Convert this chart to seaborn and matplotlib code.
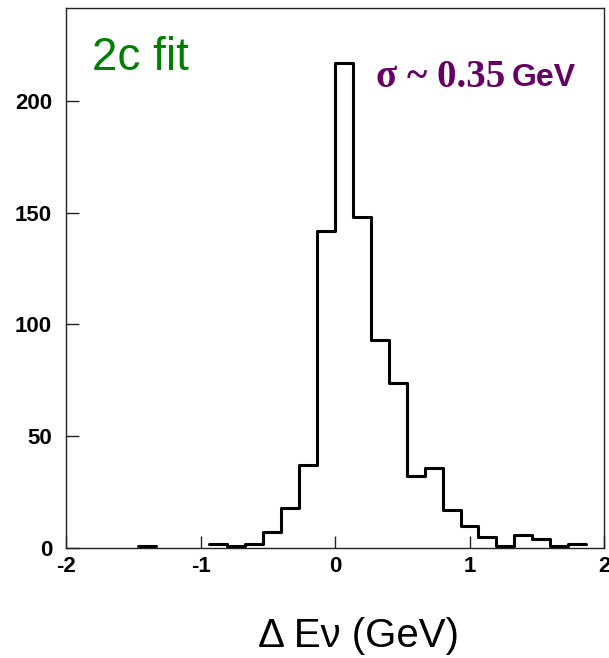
import numpy as np
import pandas as pd
import seaborn as sns
import matplotlib.pyplot as plt

# 30 bins between -2 and 2 GeV
bin_lo, bin_hi, n_bins = -2.0, 2.0, 30
counts = [0, 0, 0, 0, 1, 0, 0, 0, 2, 1,
          2, 7, 18, 37, 142, 217, 148, 93, 74, 32,
          36, 17, 10, 5, 1, 6, 4, 1, 2, 0]
x_ticks = [-2, -1, 0, 1, 2]
y_ticks = [0, 50, 100, 150, 200]

edges = np.linspace(bin_lo, bin_hi, n_bins + 1)
df = pd.DataFrame({"center": (edges[:-1] + edges[1:]) / 2, "count": counts})

sns.set_style("white")
plt.rcParams["font.family"] = ["Liberation Sans", "DejaVu Sans"]
plt.rcParams["axes.unicode_minus"] = False

W, H = 609, 658
fig = plt.figure(figsize=(W / 100, H / 100), dpi=100)
ax = fig.add_axes([66 / W, 110 / H, 538 / W, 540 / H])

# draw each run of non-empty bins on its own, empty bins stay on the axis
nonzero = df["count"].to_numpy() > 0
start = None
for i in range(n_bins + 1):
    if i < n_bins and nonzero[i]:
        if start is None:
            start = i
    elif start is not None:
        sns.histplot(data=df.iloc[start:i], x="center", weights="count",
                     bins=i - start, binrange=(edges[start], edges[i]),
                     element="step", fill=False,
                     color="black", linewidth=2.2, ax=ax)
        start = None

ax.set_xlim(bin_lo, bin_hi)
ax.set_ylim(0, 241.6)
ax.set_xticks(x_ticks)
ax.set_yticks(y_ticks)
ax.set_xticklabels([str(t) for t in x_ticks])
ax.set_yticklabels([str(t) for t in y_ticks])
ax.tick_params(axis="both", direction="in", length=9, width=1,
               color="#222222", labelcolor="black", labelsize=16,
               bottom=True, left=True)
ax.tick_params(axis="y", pad=10)
ax.tick_params(axis="x", pad=6)
for lbl in ax.get_xticklabels() + ax.get_yticklabels():
    lbl.set_fontweight("bold")
ax.set_xlabel("")
ax.set_ylabel("")
for sp in ax.spines.values():
    sp.set_color("#222222")
    sp.set_linewidth(1.0)

fig.text(92 / W, 1 - 70 / H, "2c fit", color="#008000", fontsize=33,
         ha="left", va="baseline")
fig.text(376 / W, 1 - 87 / H, "σ ~ 0.35", color="#660066", fontsize=28,
         fontweight="bold", family=["Liberation Serif", "DejaVu Serif"],
         ha="left", va="baseline")
fig.text(512 / W, 1 - 86 / H, "GeV", color="#660066", fontsize=23,
         fontweight="bold", ha="left", va="baseline")
fig.text(359 / W, 1 - 647 / H, "Δ Eν (GeV)", fontsize=29, color="black",
         ha="center", va="baseline")

fig.savefig("out.png", dpi=100)
